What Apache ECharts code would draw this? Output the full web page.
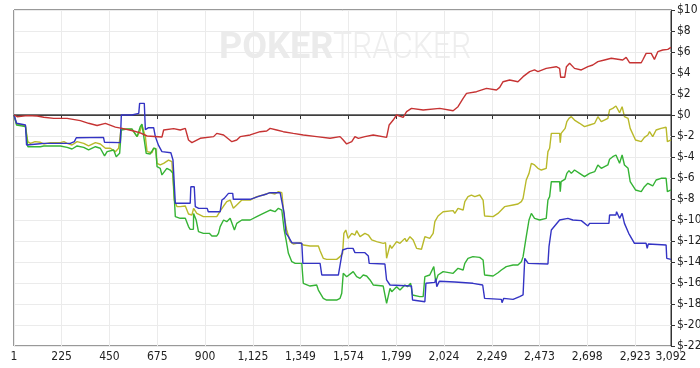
<!DOCTYPE html>
<html>
<head>
<meta charset="utf-8">
<script src="https://cdn.jsdelivr.net/npm/echarts@6/dist/echarts.min.js"></script>
<style>
html,body{margin:0;padding:0;background:#fff;}
#chart{width:700px;height:368px;}
</style>
</head>
<body>
<div id="chart"></div>
<script>
// x ticks (hand numbers) and y range (dollars)
const xTicks = [1, 225, 450, 675, 900, 1125, 1349, 1574, 1799, 2024, 2249, 2473, 2698, 2923, 3092];
const yMin = -22, yMax = 10, yStep = 2;

// [hand, dollars]
const redSeries = [[1,0],[16,-0.16],[63,-0.06],[110,-0.1],[141,-0.22],[188,-0.32],[251,-0.32],[313,-0.54],[352,-0.79],[392,-1.0],[431,-0.8],[478,-1.15],[509,-1.27],[564,-1.52],[595,-1.7],[627,-2.0],[697,-2.1],[705,-1.43],[752,-1.3],[783,-1.43],[807,-1.27],[822,-2.38],[838,-2.63],[877,-2.22],[940,-2.06],[955,-1.75],[987,-1.9],[1026,-2.54],[1049,-2.38],[1065,-2.06],[1112,-1.9],[1159,-1.59],[1190,-1.52],[1206,-1.27],[1237,-1.43],[1268,-1.59],[1315,-1.75],[1362,-1.9],[1425,-2.06],[1488,-2.22],[1535,-2.06],[1550,-2.38],[1566,-2.76],[1569,-2.86],[1590,-2.54],[1605,-2.06],[1621,-2.22],[1652,-2.06],[1691,-1.9],[1754,-2.13],[1766,-0.95],[1785,-0.48],[1801,0],[1832,-0.22],[1848,0.32],[1871,0.63],[1926,0.48],[2004,0.63],[2067,0.41],[2090,0.79],[2114,1.59],[2130,2.06],[2177,2.22],[2224,2.54],[2271,2.38],[2286,2.63],[2302,3.17],[2333,3.33],[2372,3.17],[2396,3.65],[2427,4.13],[2450,4.29],[2466,4.13],[2505,4.44],[2552,4.6],[2568,4.44],[2573,3.59],[2592,3.59],[2600,4.6],[2615,4.92],[2638,4.44],[2670,4.29],[2701,4.6],[2724,4.76],[2748,5.08],[2779,5.24],[2811,5.4],[2865,5.24],[2881,5.49],[2897,4.98],[2952,4.98],[2959,5.24],[2975,5.87],[2999,5.87],[3014,5.3],[3030,6.03],[3053,6.19],[3077,6.25],[3092,6.44]];

const blueSeries = [[1,0],[13,-0.79],[55,-0.95],[60,-2.86],[110,-2.76],[141,-2.7],[266,-2.7],[285,-2.54],[294,-2.16],[422,-2.13],[427,-2.6],[501,-2.63],[506,0],[556,0],[558,0.16],[588,0.16],[592,1.11],[614,1.11],[619,-1.4],[634,-1.21],[658,-1.21],[666,-2.06],[681,-2.9],[697,-3.49],[739,-3.6],[749,-4.29],[760,-8.41],[830,-8.41],[833,-6.83],[849,-6.83],[854,-8.73],[870,-8.89],[910,-8.89],[915,-9.21],[971,-9.21],[979,-8.1],[990,-7.94],[1010,-7.46],[1030,-7.46],[1033,-8.03],[1112,-8.03],[1120,-7.84],[1159,-7.71],[1190,-7.52],[1206,-7.4],[1253,-7.4],[1261,-7.46],[1272,-9.37],[1281,-11.27],[1292,-11.59],[1308,-12.16],[1355,-12.22],[1360,-14.13],[1441,-14.13],[1449,-15.24],[1527,-15.24],[1535,-15.08],[1547,-12.86],[1569,-12.7],[1596,-12.7],[1605,-13.11],[1652,-13.11],[1660,-12.92],[1668,-13.43],[1672,-14.13],[1746,-14.19],[1754,-15.71],[1770,-16.19],[1871,-16.29],[1876,-17.62],[1934,-17.78],[1939,-16.03],[1981,-15.94],[1986,-15.6],[1990,-16.35],[2002,-15.84],[2075,-15.9],[2083,-16.03],[2160,-16.03],[2165,-16.19],[2206,-16.19],[2215,-17.46],[2294,-17.56],[2297,-17.87],[2305,-17.46],[2349,-17.56],[2380,-17.3],[2388,-17.3],[2396,-17.14],[2404,-13.65],[2420,-14.13],[2513,-14.19],[2518,-12.54],[2521,-12.54],[2529,-10.95],[2568,-10],[2607,-9.84],[2630,-10],[2670,-10.06],[2677,-10.25],[2701,-10.57],[2709,-10.32],[2800,-10.32],[2803,-9.52],[2833,-9.52],[2836,-9.21],[2850,-9.84],[2862,-9.37],[2873,-10.32],[2893,-11.27],[2920,-12.22],[2975,-12.22],[2980,-12.7],[2985,-12.29],[3069,-12.38],[3072,-13.65],[3092,-13.75]];

const yellowSeries = [[1,0],[13,-0.86],[55,-1.05],[66,-2.54],[78,-2.7],[100,-2.54],[125,-2.6],[141,-2.76],[172,-2.63],[219,-2.63],[236,-2.54],[251,-2.7],[274,-2.86],[298,-2.54],[329,-2.7],[352,-2.95],[384,-2.63],[407,-2.76],[431,-3.17],[454,-3.17],[478,-3.49],[493,-3.17],[505,-1.27],[533,-1.37],[556,-1.37],[564,-1.59],[580,-2.06],[595,-1.49],[603,-0.95],[611,-1.11],[619,-2.06],[627,-3.49],[650,-3.59],[658,-3.17],[668,-3.2],[674,-4.6],[689,-4.76],[705,-4.6],[728,-4.29],[744,-4.44],[755,-8.1],[768,-8.73],[783,-8.73],[807,-8.67],[814,-8.73],[822,-9.43],[838,-9.52],[846,-8.89],[861,-9.37],[892,-9.68],[955,-9.68],[963,-9.52],[974,-9.05],[987,-8.67],[1002,-8.25],[1018,-8.1],[1033,-8.89],[1049,-8.57],[1073,-8.1],[1112,-8.1],[1143,-7.78],[1174,-7.62],[1206,-7.4],[1229,-7.52],[1245,-7.3],[1261,-7.4],[1272,-9.68],[1284,-10.95],[1300,-12.06],[1315,-12.29],[1347,-12.16],[1362,-12.38],[1394,-12.48],[1433,-12.48],[1441,-12.92],[1456,-13.65],[1472,-13.75],[1519,-13.75],[1535,-13.49],[1547,-13.17],[1553,-11.27],[1562,-10.95],[1573,-11.75],[1590,-11.27],[1605,-11.43],[1613,-11.02],[1629,-11.59],[1637,-11.65],[1652,-11.27],[1668,-11.43],[1684,-11.9],[1707,-12.06],[1738,-12.22],[1749,-12.16],[1754,-13.65],[1770,-12.38],[1778,-12.7],[1801,-12.06],[1817,-12.22],[1840,-11.75],[1848,-12.06],[1864,-11.59],[1879,-11.9],[1895,-12.7],[1918,-12.79],[1926,-12.86],[1934,-11.59],[1957,-11.75],[1973,-11.27],[1981,-10.16],[1996,-9.62],[2020,-9.21],[2067,-9.11],[2075,-9.37],[2090,-8.89],[2114,-9.05],[2122,-8.25],[2137,-7.78],[2153,-7.62],[2169,-7.78],[2192,-7.62],[2208,-8.1],[2215,-9.62],[2255,-9.68],[2278,-9.37],[2294,-9.05],[2309,-8.73],[2349,-8.57],[2372,-8.48],[2388,-8.25],[2396,-7.94],[2411,-6.19],[2424,-5.56],[2435,-4.6],[2450,-4.76],[2466,-5.08],[2482,-5.24],[2505,-5.08],[2513,-3.49],[2521,-3.17],[2529,-1.75],[2568,-1.75],[2571,-2.63],[2575,-1.75],[2583,-1.59],[2594,-1.27],[2602,-0.63],[2612,-0.32],[2623,-0.16],[2638,-0.48],[2662,-0.79],[2685,-1.11],[2709,-0.95],[2733,-0.79],[2748,-0.16],[2764,-0.63],[2795,-0.32],[2803,0.48],[2818,0.63],[2833,0.86],[2850,0.22],[2862,0.79],[2873,-0.16],[2890,-0.32],[2900,-1.27],[2925,-2.38],[2952,-2.54],[2967,-2.13],[2983,-1.9],[2991,-1.59],[3006,-2.06],[3022,-1.43],[3045,-1.27],[3069,-1.17],[3075,-2.54],[3092,-2.38]];

const greenSeries = [[1,0],[13,-0.95],[55,-1.11],[66,-3.02],[125,-3.02],[141,-2.95],[219,-2.95],[251,-3.08],[274,-3.24],[298,-2.95],[329,-3.08],[352,-3.33],[384,-3.02],[407,-3.17],[427,-3.9],[439,-3.49],[470,-3.33],[482,-3.97],[498,-3.65],[506,-1.43],[533,-1.33],[556,-1.33],[564,-1.59],[580,-2.06],[595,-1.11],[603,-0.86],[611,-1.05],[623,-3.65],[642,-3.71],[658,-3.17],[668,-3.2],[674,-4.92],[689,-5.08],[697,-5.71],[705,-5.71],[720,-5.08],[736,-5.24],[749,-5.56],[760,-9.68],[783,-9.84],[807,-9.84],[822,-10.63],[830,-10.89],[845,-10.89],[846,-9.37],[858,-10],[869,-11.11],[892,-11.27],[920,-11.27],[932,-11.52],[955,-11.52],[963,-11.27],[971,-10.63],[987,-10],[1002,-10.16],[1018,-9.84],[1038,-10.95],[1049,-10.32],[1073,-10],[1112,-10],[1143,-9.68],[1174,-9.37],[1206,-9.05],[1229,-9.21],[1245,-8.89],[1261,-9.05],[1272,-10.95],[1281,-11.9],[1292,-13.17],[1308,-13.97],[1324,-14.13],[1355,-14.13],[1362,-16.03],[1394,-16.29],[1425,-16.19],[1433,-16.67],[1456,-17.46],[1472,-17.62],[1519,-17.62],[1535,-17.46],[1543,-16.98],[1550,-15.08],[1558,-15.0],[1566,-15.4],[1573,-15.56],[1597,-14.92],[1613,-15.4],[1629,-15.56],[1644,-15.24],[1660,-15.33],[1676,-15.71],[1691,-16.19],[1738,-16.29],[1754,-17.94],[1770,-16.51],[1778,-16.83],[1801,-16.35],[1817,-16.67],[1840,-16.19],[1852,-16.35],[1867,-16.03],[1876,-17.14],[1910,-17.3],[1926,-17.3],[1934,-15.4],[1957,-15.24],[1976,-14.44],[1985,-15.87],[1996,-15.24],[2020,-14.92],[2067,-15.08],[2090,-14.6],[2114,-14.76],[2122,-14.13],[2137,-13.65],[2160,-13.49],[2192,-13.56],[2208,-13.81],[2215,-15.24],[2255,-15.33],[2278,-15.02],[2294,-14.76],[2317,-14.44],[2349,-14.29],[2372,-14.29],[2388,-13.97],[2396,-13.49],[2411,-11.59],[2424,-10],[2435,-9.37],[2450,-9.84],[2474,-10],[2505,-9.84],[2513,-8.1],[2521,-7.78],[2529,-6.35],[2568,-6.35],[2571,-7.3],[2575,-6.35],[2583,-6.19],[2594,-6.1],[2602,-5.56],[2612,-5.3],[2623,-5.56],[2638,-5.24],[2662,-5.56],[2685,-5.87],[2709,-5.56],[2733,-5.4],[2748,-4.76],[2764,-5.08],[2795,-4.76],[2803,-4.22],[2818,-3.97],[2833,-3.81],[2850,-4.6],[2862,-3.81],[2873,-4.76],[2890,-5.08],[2900,-6.35],[2925,-7.14],[2952,-7.3],[2967,-6.83],[2983,-6.51],[2991,-6.35],[3006,-6.76],[3022,-6.19],[3045,-6.03],[3069,-6.03],[3075,-7.3],[3092,-7.14]];

const chart = echarts.init(document.getElementById('chart'), null, {renderer: 'canvas'});
const labelFont = '"Liberation Sans Narrow", "DejaVu Sans Condensed", "Liberation Sans", Arial, sans-serif';

function mkSeries(name, data, color, z) {
  return {
    name: name, type: 'line', data: data, showSymbol: false, symbol: 'none',
    lineStyle: {color: color, width: 1.4}, z: z, animation: false
  };
}

const series = [
  mkSeries('yellow', yellowSeries, '#b9b92a', 3),
  mkSeries('green', greenSeries, '#35b335', 4),
  mkSeries('blue', blueSeries, '#3434c4', 5),
  mkSeries('red', redSeries, '#c63333', 6)
];
series[0].markLine = {
  silent: true, symbol: ['none', 'none'], label: {show: false},
  lineStyle: {color: '#444', width: 1.5, type: 'solid'},
  data: [{yAxis: 0}], animation: false
};

chart.setOption({
  animation: false,
  backgroundColor: '#fff',
  grid: {left: 14, right: 29, top: 10, bottom: 22, show: true, borderColor: '#333', borderWidth: 1,
    backgroundColor: 'transparent', containLabel: false, outerBoundsMode: 'none'},
  graphic: [
    {type: 'text', x: 219, y: 31, z: 0, silent: true,
     style: {text: 'POKER', font: 'bold 36px Roboto, sans-serif', fill: '#ebebeb'}},
    {type: 'text', x: 333, y: 31, z: 0, silent: true, scaleX: 0.885,
     style: {text: 'TRACKER', font: '300 36px Roboto, sans-serif', fill: '#eeeeee'}}
  ],
  xAxis: {
    type: 'value', min: xTicks[0], max: xTicks[xTicks.length - 1],
    axisLine: {show: true, lineStyle: {color: '#333', width: 1}},
    axisTick: {show: true, length: 4, customValues: xTicks, lineStyle: {color: '#333'}},
    axisLabel: {customValues: xTicks, color: '#222', fontSize: 12, fontFamily: labelFont, margin: 5,
      formatter: v => Math.round(v).toLocaleString('en-US')},
    splitLine: {show: true, lineStyle: {color: '#ebebeb', width: 1}}
  },
  yAxis: {
    type: 'value', position: 'right', min: yMin, max: yMax, interval: yStep,
    axisLine: {show: true, lineStyle: {color: '#333', width: 1}},
    axisTick: {show: true, length: 4, lineStyle: {color: '#333'}},
    axisLabel: {color: '#222', fontSize: 12, fontFamily: labelFont, margin: 6,
      formatter: v => '$' + v},
    splitLine: {show: true, lineStyle: {color: '#ebebeb', width: 1}}
  },
  series: series
});
</script>
</body>
</html>
